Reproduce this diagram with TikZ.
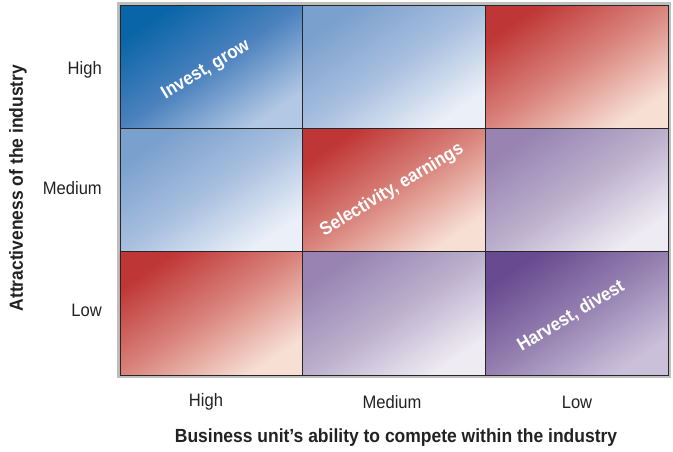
\documentclass[tikz,border=0pt]{standalone}
\usepackage{fontspec}
\setmainfont{Liberation Sans}[FakeStretch=0.92]
\definecolor{blueA}{HTML}{0A65A8}
\definecolor{blueM}{HTML}{4C82BE}
\definecolor{blueB}{HTML}{B3C8E4}
\definecolor{lblueA}{HTML}{7AA0CE}
\definecolor{lblueM}{HTML}{A8BFDF}
\definecolor{lblueB}{HTML}{EBF0F8}
\definecolor{redA}{HTML}{BF3636}
\definecolor{redM}{HTML}{D9847C}
\definecolor{redB}{HTML}{F7DFD4}
\definecolor{lpurA}{HTML}{9883B2}
\definecolor{lpurM}{HTML}{BBAFCC}
\definecolor{lpurB}{HTML}{EEEBF3}
\definecolor{dpurA}{HTML}{674A90}
\definecolor{dpurM}{HTML}{9580B0}
\definecolor{dpurB}{HTML}{CAC0DA}
\definecolor{framegray}{HTML}{BEBEBE}
\definecolor{txt}{HTML}{222222}
\tikzset{
  cell/.style={minimum width=182.67pt, minimum height=123.33pt, inner sep=0pt, outer sep=0pt, draw=black!85, line width=0.9pt},
  tick/.style={text=txt, font=\fontsize{18}{20}\selectfont, inner sep=0pt},
  axislab/.style={text=txt, font=\bfseries\fontsize{19}{21}\selectfont, inner sep=0pt},
  celllab/.style={text=white, font=\bfseries\fontsize{18.5}{20}\selectfont, inner sep=0pt, rotate=31},
}
% shaded cell background: #1 centre, #2 top-left, #3 middle, #4 bottom-right colour
\newcommand{\cellshade}[4]{%
  \begin{scope}[transform canvas={shift={#1}, xscale=1.8267, yscale=1.2333}]
    \shade[top color=#2, bottom color=#4, middle color=#3, shading angle=45] (-50,-50) rectangle (50,50);
  \end{scope}}
\begin{document}
\begin{tikzpicture}[x=1pt,y=-1pt]
\useasboundingbox (0,0) rectangle (673,452);
\node[fill=framegray, minimum width=554pt, minimum height=376pt, inner sep=0pt] (frame) at (394,190) {};
% backgrounds
\cellshade{(211.33,66.67)}{blueA}{blueM}{blueB}
\cellshade{(394,66.67)}{lblueA}{lblueM}{lblueB}
\cellshade{(576.67,66.67)}{redA}{redM}{redB}
\cellshade{(211.33,190)}{lblueA}{lblueM}{lblueB}
\cellshade{(394,190)}{redA}{redM}{redB}
\cellshade{(576.67,190)}{lpurA}{lpurM}{lpurB}
\cellshade{(211.33,313.33)}{redA}{redM}{redB}
\cellshade{(394,313.33)}{lpurA}{lpurM}{lpurB}
\cellshade{(576.67,313.33)}{dpurA}{dpurM}{dpurB}
% cell borders
\node[cell] (c11) at (211.33,66.67) {};
\node[cell] (c12) at (394,66.67) {};
\node[cell] (c13) at (576.67,66.67) {};
\node[cell] (c21) at (211.33,190) {};
\node[cell] (c22) at (394,190) {};
\node[cell] (c23) at (576.67,190) {};
\node[cell] (c31) at (211.33,313.33) {};
\node[cell] (c32) at (394,313.33) {};
\node[cell] (c33) at (576.67,313.33) {};
% cell labels
\node[celllab] (l1) at (206,70) {Invest, grow};
\node[celllab] (l2) at (392,190) {Selectivity, earnings};
\node[celllab] (l3) at (571,316) {Harvest, divest};
% axis ticks
\node[tick, anchor=east] (yh) at (102,70) {High};
\node[tick, anchor=east] (ym) at (102,188) {Medium};
\node[tick, anchor=east] (yl) at (102,310) {Low};
\node[tick] (xh) at (206,402) {High};
\node[tick] (xm) at (392,402) {Medium};
\node[tick] (xl) at (577,402) {Low};
% axis titles
\node[axislab, rotate=90] (ytitle) at (18,188) {Attractiveness of the industry};
\node[axislab] (xtitle) at (396,438) {Business unit’s ability to compete within the industry};
\end{tikzpicture}
\end{document}
